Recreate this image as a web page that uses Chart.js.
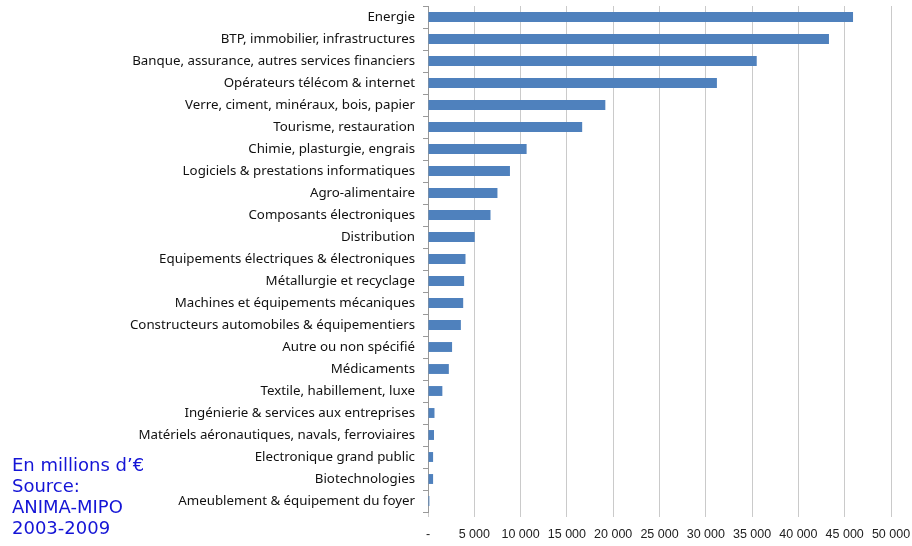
<!DOCTYPE html>
<html>
<head>
<meta charset="utf-8">
<script src="https://cdn.jsdelivr.net/npm/chart.js@4.4.0/dist/chart.umd.min.js"></script>
<style>
  html, body { margin: 0; padding: 0; background: #fff; }
  #wrap { position: relative; width: 912px; height: 546px; }
  #note {
    position: absolute; left: 12px; top: 454px;
    font-family: "DejaVu Sans", sans-serif; font-size: 18px; line-height: 21px;
    color: #1414d6;
  }
</style>
</head>
<body>
<div id="wrap">
  <canvas id="chart" width="912" height="546"></canvas>
  <div id="note">En millions d’€<br>Source:<br>ANIMA-MIPO<br>2003-2009</div>
</div>
<script>
// secteurs, du plus gros au plus petit
const sectors = [
  "Energie",
  "BTP, immobilier, infrastructures",
  "Banque, assurance, autres services financiers",
  "Opérateurs télécom & internet",
  "Verre, ciment, minéraux, bois, papier",
  "Tourisme, restauration",
  "Chimie, plasturgie, engrais",
  "Logiciels & prestations informatiques",
  "Agro-alimentaire",
  "Composants électroniques",
  "Distribution",
  "Equipements électriques & électroniques",
  "Métallurgie et recyclage",
  "Machines et équipements mécaniques",
  "Constructeurs automobiles & équipementiers",
  "Autre ou non spécifié",
  "Médicaments",
  "Textile, habillement, luxe",
  "Ingénierie & services aux entreprises",
  "Matériels aéronautiques, navals, ferroviaires",
  "Electronique grand public",
  "Biotechnologies",
  "Ameublement & équipement du foyer"
];

// montants en millions d'euros
const amounts = [
  45900, 43300, 35500, 31200, 19150, 16650, 10650, 8850, 7500, 6750,
  5050, 4050, 3900, 3800, 3550, 2600, 2250, 1550, 700, 650,
  550, 550, 150
];

const xMax = 50000;
const xStep = 5000;

const fmt = v => v === 0 ? "-" : String(v).replace(/\B(?=(\d{3})+(?!\d))/g, " ");

new Chart(document.getElementById("chart").getContext("2d"), {
  type: "bar",
  data: {
    labels: sectors,
    datasets: [{
      data: amounts,
      backgroundColor: "#4f81bd",
      borderWidth: 0,
      categoryPercentage: 1,
      barPercentage: 0.45
    }]
  },
  options: {
    indexAxis: "y",
    responsive: false,
    animation: false,
    layout: { padding: { top: 6, right: 21, left: 0, bottom: 0 } },
    plugins: { legend: { display: false }, tooltip: { enabled: false } },
    scales: {
      x: {
        min: 0, max: xMax,
        ticks: {
          stepSize: xStep,
          callback: v => fmt(v),
          color: "#222",
          font: { family: "Liberation Sans", size: 12.5 },
          maxRotation: 0,
          padding: 10
        },
        grid: { color: "#cacaca", tickLength: 5 },
        border: { display: false },
        afterFit: s => { s.height = 34; s.paddingLeft = 0; s.paddingRight = 0; }
      },
      y: {
        ticks: {
          color: "#111",
          font: { family: "Noto Sans", size: 13.3 },
          padding: 8,
          autoSkip: false
        },
        grid: { offset: true, drawOnChartArea: false, tickLength: 5, color: "#999" },
        border: { display: true, color: "#999" },
        afterFit: s => { s.width = 428; s.paddingTop = 0; s.paddingBottom = 0; }
      }
    }
  }
});
</script>
</body>
</html>
